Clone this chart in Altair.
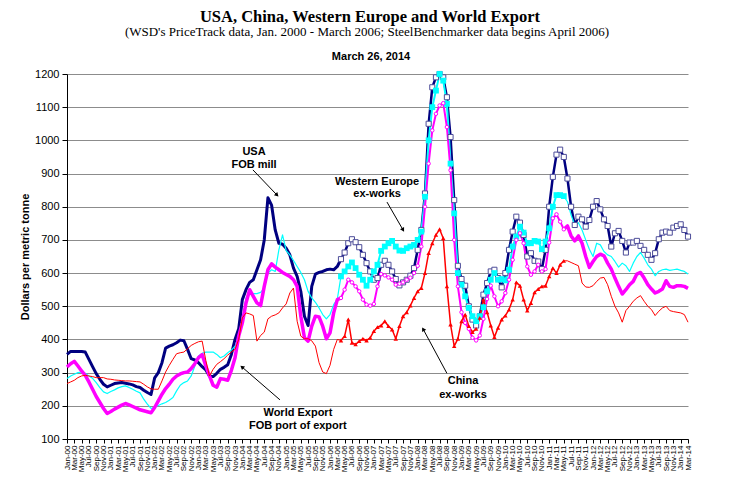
import altair as alt
import pandas as pd

# month index: 0 = Jan-2000 ... 170 = Mar-2014
months = list(range(171))

usa = [355, 364, 364, 364, 364, 362, 340, 318, 297, 280, 265, 257, 262, 267, 269, 270, 268, 266, 263, 258,
       255, 247, 240, 234, 284, 300, 330, 374, 380, 384, 390, 398, 396, 370, 342, 338, 330, 318, 308, 290,
       288, 298, 310, 316, 324, 355, 400, 432, 520, 550, 572, 580, 610, 640, 700, 827, 805, 730, 690, 687,
       675, 655, 615, 590, 545, 470, 442, 560, 597, 602, 605, 610, 612, 610, 620, 642, 662, 690, 702, 693,
       678, 655, 630, 605, 580, 585, 625, 637, 625, 605, 582, 563, 572, 580, 592, 615, 670, 730, 840, 1050,
       1160, 1190, 1200, 1190, 1130, 1010, 820, 622, 582, 562, 500, 460, 442, 470, 535, 570, 605, 610, 585, 557,
       600, 670, 725, 770, 752, 715, 650, 660, 637, 635, 612, 670, 800, 890, 957, 972, 950, 885, 800, 745,
       770, 762, 740, 760, 800, 817, 792, 762, 742, 680, 720, 727, 697, 662, 692, 692, 697, 682, 670, 655,
       640, 660, 702, 722, 725, 722, 737, 742, 747, 730, 710]

western_europe = [282, 290, 295, 300, 302, 298, 290, 283, 270, 255, 242, 237, 243, 248, 254, 258, 260, 255, 250, 244,
                  239, 220, 205, 192, 196, 201, 206, 210, 217, 225, 245, 262, 270, 275, 290, 320, 350, 358, 362, 362,
                  362, 355, 345, 350, 360, 368, 380, 410, 460, 525, 542, 538, 538, 542, 555, 600, 610, 605, 670, 715,
                  668, 655, 638, 620, 602, 580, 545, 525, 512, 495, 475, 462, 475, 505, 522, 590, 605, 620, 632, 615,
                  595, 580, 562, 580, 605, 625, 667, 680, 690, 697, 680, 668, 667, 675, 680, 685, 700, 725, 830, 1000,
                  1100, 1150, 1200, 1180, 1110, 930, 780, 600, 565, 530, 495, 470, 455, 470, 497, 545, 580, 600, 580, 582,
                  578, 610, 680, 710, 740, 722, 690, 690, 697, 695, 672, 695, 735, 800, 835, 835, 832, 815, 775, 745,
                  752, 730, 700, 672, 650, 690, 685, 665, 655, 650, 635, 618, 630, 622, 605, 630, 650, 662, 645, 625,
                  612, 592, 605, 610, 612, 608, 610, 612, 608, 605, 597]

world_export = [317, 327, 334, 320, 305, 292, 272, 250, 228, 210, 192, 177, 183, 190, 196, 202, 207, 203, 198, 193,
                188, 185, 182, 179, 195, 215, 235, 252, 265, 280, 290, 296, 300, 302, 312, 327, 345, 354, 320, 290,
                262, 256, 282, 280, 277, 307, 345, 410, 450, 510, 550, 530, 510, 502, 560, 610, 628, 618, 610, 602,
                596, 590, 580, 560, 470, 405, 395, 440, 470, 468, 440, 402, 420, 480, 520, 525, 550, 580, 572, 560,
                545, 520, 505, 502, 507, 560, 597, 593, 587, 580, 565, 568, 572, 580, 586, 600, 622, 680, 800, 930,
                1030, 1080, 1105, 1112, 1040, 910, 700, 560, 482, 450, 432, 405, 397, 412, 462, 522, 562, 530, 500, 515,
                540, 580, 640, 700, 720, 690, 620, 595, 605, 625, 605, 612, 692, 765, 777, 755, 732, 742, 712, 697,
                712, 690, 650, 617, 635, 650, 657, 652, 630, 612, 585, 560, 537, 550, 565, 575, 597, 602, 585, 565,
                552, 540, 545, 552, 577, 560, 557, 562, 562, 560, 554]

china = [267, 272, 277, 285, 290, 292, 290, 288, 285, 285, 285, 281, 280, 278, 277, 276, 275, 275, 274, 273,
         272, 265, 257, 251, 250, 250, 275, 302, 322, 340, 357, 360, 362, 372, 382, 388, 393, 395, 337, 290,
         310, 325, 333, 342, 353, 362, 370, 400, 465, 480, 477, 472, 395, 412, 422, 462, 470, 474, 480, 495,
         507, 540, 555, 455, 410, 402, 402, 396, 380, 330, 302, 297, 322, 370, 400, 397, 410, 460, 390, 385,
         395, 402, 397, 405, 425, 437, 442, 455, 440, 430, 402, 440, 470, 482, 502, 525, 545, 555, 600, 660,
         690, 715, 732, 705, 560, 445, 380, 402, 455, 475, 440, 422, 432, 465, 520, 482, 442, 407, 435, 460,
         472, 490, 520, 572, 562, 520, 487, 510, 542, 552, 560, 562, 590, 615, 600, 625, 637, 637, 632, 627,
         622, 570, 558, 557, 562, 575, 585, 587, 565, 530, 500, 480, 452, 487, 500, 515, 525, 532, 515, 500,
         490, 472, 485, 495, 500, 487, 484, 482, 480, 475, 452]

TITLE = "USA, China, Western Europe and World Export"
SUBTITLE = "(WSD's PriceTrack data, Jan. 2000 - March 2006; SteelBenchmarker data begins April 2006)"
DATE = "March 26, 2014"

# annotation labels (month index, value)
ann_text = pd.DataFrame({
    "m": [51.2, 51.2, 84.9, 84.9, 108.4, 108.4, 63.2, 63.2],
    "v": [965, 926, 875, 838, 275, 233, 178, 139],
    "label": ["USA", "FOB mill", "Western Europe", "ex-works", "China", "ex-works",
              "World Export", "FOB port of export"],
})
arrows = pd.DataFrame({
    "m": [50.9, 87.6, 104.0, 58.3],
    "v": [911, 814, 298, 218],
    "m2": [57.5, 92.0, 97.5, 47.9],
    "v2": [835, 730, 431, 317],
    "ang": [136, 150, 331, 311],
})

PRE_END = 75     # Apr-2006: SteelBenchmarker data begins
MARK_END = 136   # marker segment ends

FONT = "Liberation Sans"

def seg(vals, a, b):
    return pd.DataFrame({"m": months[a:b + 1], "v": vals[a:b + 1]})

x_scale = alt.Scale(domain=[0, 170], nice=False, zero=False)
y_scale = alt.Scale(domain=[100, 1200], nice=False, zero=False)

x_axis = alt.Axis(values=list(range(0, 171, 2)),
                  labelExpr="timeFormat(datetime(2000, datum.value, 1), '%b-%y')",
                  labelAngle=-90, labelFontSize=8, labelFont=FONT, labelColor="black",
                  grid=False, tickSize=4, tickColor="black", domainColor="black",
                  labelPadding=2, labelOverlap=False, labelFlush=False, labelBound=False,
                  title=None)
y_axis = alt.Axis(values=list(range(100, 1300, 100)), format="d", title="Dollars per metric tonne",
                  titleFont=FONT, titleFontSize=11, titleFontWeight="bold", titleColor="black",
                  labelFont=FONT, labelFontSize=11, labelColor="black",
                  tickSize=5, tickColor="black", labelPadding=3, domainColor="black",
                  grid=True, gridColor="#8c8c8c", gridWidth=1, titlePadding=4)

X = alt.X("m:Q", scale=x_scale, axis=x_axis)
Y = alt.Y("v:Q", scale=y_scale, axis=y_axis)

def line(df, color, width):
    return alt.Chart(df).mark_line(color=color, strokeWidth=width, strokeJoin="round").encode(x=X, y=Y)

NAVY, CYAN, MAG, RED = "#000080", "#00FFFF", "#FF00FF", "#FF0000"

layers = [
    # USA
    line(seg(usa, 0, PRE_END), NAVY, 3),
    line(seg(usa, PRE_END, 170), NAVY, 2.5),
    # Western Europe
    line(seg(western_europe, 0, PRE_END), CYAN, 1.2),
    line(seg(western_europe, PRE_END, MARK_END), CYAN, 2),
    line(seg(western_europe, MARK_END, 170), CYAN, 1.2),
    # World Export
    line(seg(world_export, 0, PRE_END), MAG, 3.5),
    line(seg(world_export, PRE_END, MARK_END), MAG, 2),
    line(seg(world_export, MARK_END, 170), MAG, 3.5),
    # China
    line(seg(china, 0, PRE_END), RED, 1),
    line(seg(china, PRE_END, MARK_END), RED, 1.5),
    line(seg(china, MARK_END, 170), RED, 1),
    # markers
    alt.Chart(seg(usa, PRE_END, 170)).mark_point(shape="square", filled=True, fill="white",
                                                 stroke="#4d4d99", strokeWidth=1, size=26, opacity=1
                                                 ).encode(x=X, y=Y),
    alt.Chart(seg(western_europe, PRE_END, MARK_END)).mark_point(shape="square", filled=True,
                                                                 color=CYAN, size=34, opacity=1
                                                                 ).encode(x=X, y=Y),
    alt.Chart(seg(world_export, PRE_END, MARK_END)).mark_point(shape="circle", filled=True, fill="white",
                                                               stroke=MAG, strokeWidth=1, size=12, opacity=1
                                                               ).encode(x=X, y=Y),
    alt.Chart(seg(china, PRE_END, MARK_END)).mark_point(shape="triangle-up", filled=True,
                                                        color=RED, size=20, opacity=1
                                                        ).encode(x=X, y=Y),
]

ann_rules = alt.Chart(arrows).mark_rule(color="black", strokeWidth=1).encode(
    x=X, x2="m2:Q", y=Y, y2="v2:Q")
ann_heads = alt.Chart(arrows).mark_point(shape="triangle-up", filled=True, color="black",
                                         size=22, opacity=1).encode(
    x=alt.X("m2:Q", scale=x_scale, axis=x_axis),
    y=alt.Y("v2:Q", scale=y_scale, axis=y_axis),
    angle=alt.Angle("ang:Q", scale=None))
ann_labels = alt.Chart(ann_text).mark_text(font=FONT, fontSize=11, fontWeight="bold",
                                           color="black", align="center", baseline="middle").encode(
    x=X, y=Y, text="label:N")

title_layer = alt.Chart(pd.DataFrame({"t": [TITLE]})).mark_text(
    font="Liberation Serif", fontSize=16.5, fontWeight="bold", color="black",
    align="center", baseline="middle").encode(x=alt.value(303), y=alt.value(-57.5), text="t:N")
subtitle_layer = alt.Chart(pd.DataFrame({"t": [SUBTITLE]})).mark_text(
    font="Liberation Serif", fontSize=13, color="black",
    align="center", baseline="middle").encode(x=alt.value(300), y=alt.value(-42), text="t:N")
date_layer = alt.Chart(pd.DataFrame({"t": [DATE]})).mark_text(
    font=FONT, fontSize=11, fontWeight="bold", color="black",
    align="center", baseline="middle").encode(x=alt.value(304), y=alt.value(-17), text="t:N")

chart = alt.layer(*layers, ann_rules, ann_heads, ann_labels,
                  title_layer, subtitle_layer, date_layer).properties(
    width=621, height=365,
    padding={"left": 59, "top": 66, "right": 40, "bottom": 50},
    autosize=alt.AutoSizeParams(type="none"),
    background="white",
).configure_view(strokeWidth=0)

chart.save("out.html", embed_options={"renderer": "svg", "actions": False})
